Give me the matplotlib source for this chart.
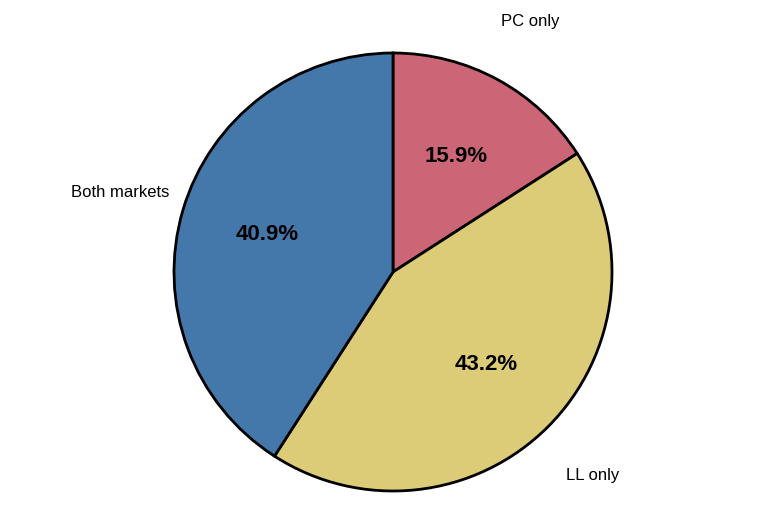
import matplotlib.pyplot as plt
import numpy as np

plt.rcParams['font.family'] = ['Liberation Sans', 'DejaVu Sans']

categories = ["PC only", "LL only", "Both markets"]
values = [15.9, 43.2, 40.9]
colors = ["#CC6677", "#DDCC77", "#4477AA"]
label_pos = [(0.626, 1.142), (0.913, -0.927), (-1.247, 0.365)]

fig = plt.figure(figsize=(7.61, 5.15), dpi=100)
ax = fig.add_axes([(393-219)/761, (243-219)/515, 438/761, 438/515])
wedges, texts, autotexts = ax.pie(values, labels=categories, colors=colors, startangle=90,
       counterclock=False, autopct='%1.1f%%', pctdistance=0.6,
       wedgeprops=dict(edgecolor='black', linewidth=2),
       textprops=dict(fontsize=12))
for t, p in zip(texts, label_pos):
    t.set_position(p)
    t.set_ha('center'); t.set_va('center')
for t in autotexts:
    t.set_fontsize(16); t.set_fontweight('bold')
ax.set_xlim(-1, 1); ax.set_ylim(-1, 1)
ax.set_aspect('equal')
fig.savefig('out.png', dpi=100)
